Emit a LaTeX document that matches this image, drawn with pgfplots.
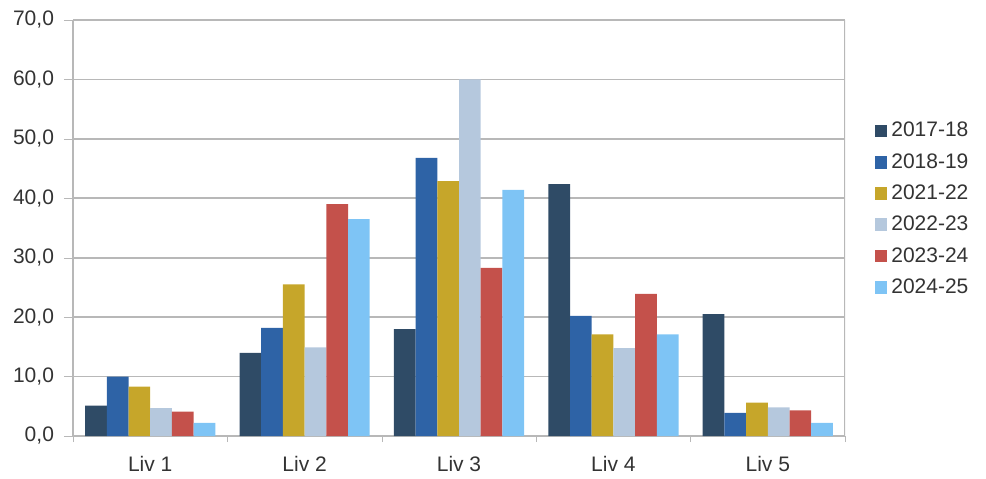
\documentclass[border=0pt]{standalone}
\usepackage{pgfplots}
\pgfplotsset{compat=1.18}
\usepackage{fontspec}
\setmainfont{Liberation Sans}
\definecolor{cA}{HTML}{2F4B66}
\definecolor{cB}{HTML}{2E63A6}
\definecolor{cC}{HTML}{C6A62A}
\definecolor{cD}{HTML}{B5C8DD}
\definecolor{cE}{HTML}{C4514B}
\definecolor{cF}{HTML}{7EC4F5}
\definecolor{gridc}{HTML}{B8B8B8}
\definecolor{txt}{HTML}{333333}
\begin{document}
\begin{tikzpicture}
\begin{axis}[
  scale only axis,
  width=386pt, height=208pt,
  ybar=0pt, bar width=10.85pt,
  xmin=-0.5, xmax=4.5, ymin=0, ymax=70,
  ytick={0,10,...,70},
  xtick={0,1,2,3,4},
  xticklabels={Liv 1,Liv 2,Liv 3,Liv 4,Liv 5},
  minor xtick={-0.5,0.5,1.5,2.5,3.5,4.5},
  major x tick style={draw=none},
  minor x tick style={gridc},
  tick align=outside,
  minor tick length=3pt,
  major tick length=4.5pt,
  y tick style={gridc},
  ymajorgrids,
  grid style={gridc, line width=0.8pt},
  axis line style={gridc, line width=0.6pt},
  axis x line*=bottom,
  axis y line*=left,
  tick label style={font=\fontsize{10.5}{12}\selectfont, text=txt},
  /pgf/number format/.cd, fixed, fixed zerofill, precision=1, use comma, assume math mode=true,
  /pgfplots/.cd,
  xticklabel style={yshift=-2pt},
  yticklabel style={xshift=-1.5pt},
  legend style={at={(1.03,0.545)}, anchor=west, draw=none, fill=none,
    font=\fontsize{10.5}{12}\selectfont, text=txt, row sep=2.8pt,
    /tikz/every even column/.append style={column sep=2pt}},
  legend cell align=left,
  legend image code/.code={\fill[#1] (0pt,-3.1pt) rectangle (6.4pt,3.3pt);},
]
\addplot[fill=cA, draw=none] coordinates {(0,5.1) (1,14.0) (2,18.0) (3,42.4) (4,20.5)};
\addplot[fill=cB, draw=none] coordinates {(0,10.0) (1,18.2) (2,46.8) (3,20.2) (4,3.9)};
\addplot[fill=cC, draw=none] coordinates {(0,8.3) (1,25.5) (2,42.9) (3,17.1) (4,5.6)};
\addplot[fill=cD, draw=none] coordinates {(0,4.7) (1,14.9) (2,60.0) (3,14.8) (4,4.8)};
\addplot[fill=cE, draw=none] coordinates {(0,4.1) (1,39.0) (2,28.3) (3,23.9) (4,4.3)};
\addplot[fill=cF, draw=none] coordinates {(0,2.2) (1,36.5) (2,41.4) (3,17.1) (4,2.2)};
\legend{2017-18,2018-19,2021-22,2022-23,2023-24,2024-25}
\draw[gridc, line width=0.6pt] (rel axis cs:1,0) -- (rel axis cs:1,1);
\end{axis}
\path ([xshift=-36.5pt,yshift=-20.5pt]current axis.south west) rectangle ([xshift=70.5pt,yshift=10pt]current axis.north east);
\end{tikzpicture}
\end{document}
